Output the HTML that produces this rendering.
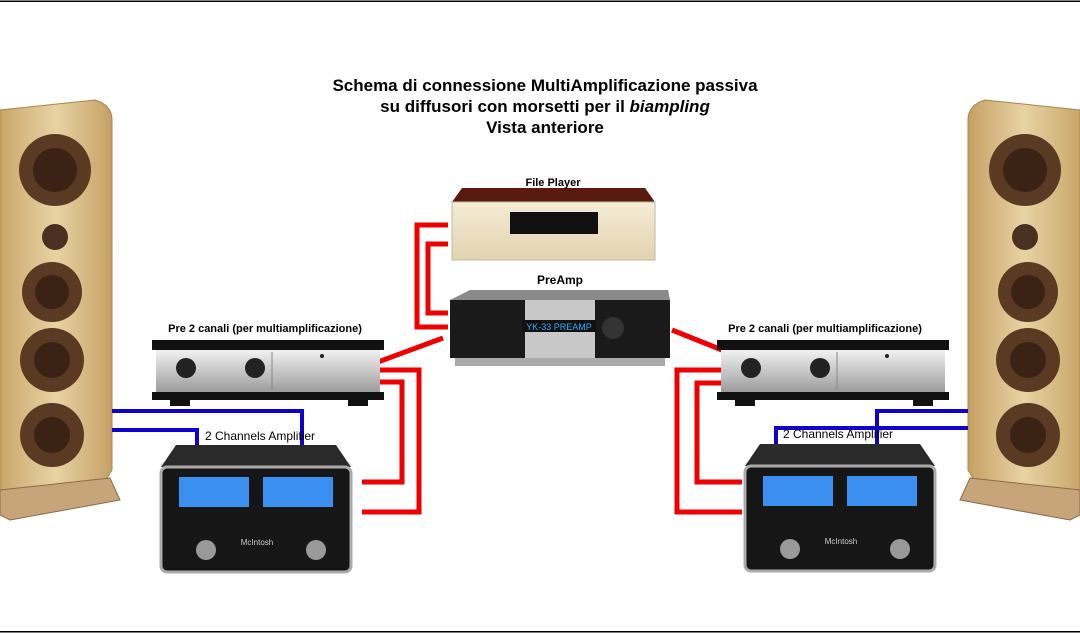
<!DOCTYPE html>
<html><head><meta charset="utf-8"><style>
body{margin:0;background:#fff;}
svg{display:block}
text{font-family:"Liberation Sans",sans-serif}
</style></head><body>
<svg width="1080" height="634" viewBox="0 0 1080 634">
<defs>
<linearGradient id="wood" x1="0" x2="1"><stop offset="0" stop-color="#c9a76a"/><stop offset=".5" stop-color="#e8d3a4"/><stop offset="1" stop-color="#c6a064"/></linearGradient>
<linearGradient id="silver" x1="0" y1="0" x2="0" y2="1"><stop offset="0" stop-color="#f2f2f2"/><stop offset="1" stop-color="#9c9c9c"/></linearGradient>
<linearGradient id="cream" x1="0" y1="0" x2="0" y2="1"><stop offset="0" stop-color="#f4ecd6"/><stop offset="1" stop-color="#e2d3ae"/></linearGradient>
<g id="spk">
<path d="M0 110 L95 100 Q112 105 112 120 L112 470 L100 490 L0 495 Z" fill="url(#wood)" stroke="#a88550"/>
<circle cx="55" cy="170" r="36" fill="#5a3a22"/><circle cx="55" cy="170" r="22" fill="#3a2214"/>
<circle cx="55" cy="237" r="13" fill="#4a3020"/>
<circle cx="52" cy="292" r="30" fill="#5a3a22"/><circle cx="52" cy="292" r="17" fill="#3a2214"/>
<circle cx="52" cy="360" r="32" fill="#5a3a22"/><circle cx="52" cy="360" r="18" fill="#3a2214"/>
<circle cx="52" cy="435" r="32" fill="#5a3a22"/><circle cx="52" cy="435" r="18" fill="#3a2214"/>
<path d="M0 490 L110 478 L120 500 L10 520 L0 515Z" fill="#c8a47a" stroke="#8a6a48"/>
</g>
<g id="pre">
<rect x="0" y="0" width="232" height="10" fill="#111"/>
<rect x="4" y="10" width="224" height="42" fill="url(#silver)"/>
<rect x="0" y="52" width="232" height="8" fill="#111"/>
<rect x="18" y="58" width="20" height="8" fill="#111"/><rect x="196" y="58" width="20" height="8" fill="#111"/>
<circle cx="34" cy="28" r="10" fill="#222"/><circle cx="103" cy="28" r="10" fill="#222"/>
<line x1="120" y1="12" x2="120" y2="50" stroke="#888"/>
<circle cx="170" cy="16" r="2" fill="#222"/>
</g>
<g id="amp">
<path d="M15 0 L175 0 L190 22 L0 22 Z" fill="#2a2a2a"/>
<rect x="0" y="22" width="190" height="105" rx="6" fill="#161616" stroke="#aaa" stroke-width="3"/>
<rect x="18" y="32" width="70" height="30" fill="#3a8ff0"/><rect x="102" y="32" width="70" height="30" fill="#3a8ff0"/>
<circle cx="45" cy="105" r="10" fill="#999"/><circle cx="155" cy="105" r="10" fill="#999"/>
<text x="96" y="100" font-size="8" fill="#ccc" text-anchor="middle">McIntosh</text>
</g>
</defs>
<rect x="0" y="0.5" width="1080" height="1.5" fill="#000"/>
<rect x="0" y="631" width="1080" height="1.5" fill="#000"/>
<text font-size="17" font-weight="bold" text-anchor="middle"><tspan x="545" y="91">Schema di connessione MultiAmplificazione passiva</tspan><tspan x="545" y="112">su diffusori con morsetti per il <tspan font-style="italic">biampling</tspan></tspan><tspan x="545" y="133">Vista anteriore</tspan></text>
<use href="#spk"/>
<use href="#spk" transform="translate(1080,0) scale(-1,1)"/>
<g fill="none" stroke-width="5" stroke-linejoin="miter">
<path d="M448 225 H417 V327 H448" stroke="#e00"/>
<path d="M448 244 H428 V313 H448" stroke="#e00"/>
<path d="M378 362 L443 338" stroke="#e00"/>
<path d="M376 370 H419 V512 H362" stroke="#e00"/>
<path d="M376 382 H402 V482 H362" stroke="#e00"/>
<path d="M672 330 L722 350" stroke="#e00"/>
<path d="M725 370 H677 V512 H742" stroke="#e00"/>
<path d="M725 383 H697 V482 H742" stroke="#e00"/>
<path d="M112 411 H302 V447" stroke="#10c" stroke-width="4"/>
<path d="M112 430 H197 V447" stroke="#10c" stroke-width="4"/>
<path d="M968 411 H877 V447" stroke="#10c" stroke-width="4"/>
<path d="M968 428 H776 V447" stroke="#10c" stroke-width="4"/>
</g>
<!-- file player -->
<path d="M462 188 L645 188 L655 202 L452 202Z" fill="#5a1a10"/>
<rect x="452" y="202" width="203" height="58" fill="url(#cream)" stroke="#bba"/>
<rect x="510" y="212" width="88" height="22" fill="#111"/>
<text x="553" y="186" font-size="11" font-weight="bold" text-anchor="middle">File Player</text>
<!-- preamp -->
<text x="560" y="284" font-size="12" font-weight="bold" text-anchor="middle">PreAmp</text>
<path d="M450 300 L470 290 L668 290 L670 300Z" fill="#8a8a8a"/>
<rect x="450" y="300" width="220" height="58" fill="#1a1a1a"/>
<rect x="525" y="300" width="70" height="58" fill="#c8c8c8"/>
<rect x="522" y="320" width="74" height="12" fill="#111"/>
<text x="559" y="330" font-size="9" fill="#3af" text-anchor="middle" font-family="Liberation Mono">YK-33 PREAMP</text>
<circle cx="613" cy="328" r="11" fill="#333"/>
<rect x="455" y="358" width="210" height="8" fill="#aaa"/>
<!-- pres -->
<text x="265" y="332" font-size="11" font-weight="bold" text-anchor="middle">Pre 2 canali (per multiamplificazione)</text>
<use href="#pre" transform="translate(152,340)"/>
<text x="825" y="332" font-size="11" font-weight="bold" text-anchor="middle">Pre 2 canali (per multiamplificazione)</text>
<use href="#pre" transform="translate(717,340)"/>
<!-- amps -->
<use href="#amp" transform="translate(161,445)"/>
<use href="#amp" transform="translate(745,444)"/>
<text x="260" y="440" font-size="12" text-anchor="middle" fill="#000">2 Channels Amplifier</text>
<text x="838" y="438" font-size="12" text-anchor="middle" fill="#000">2 Channels Amplifier</text>
</svg>
</body></html>
